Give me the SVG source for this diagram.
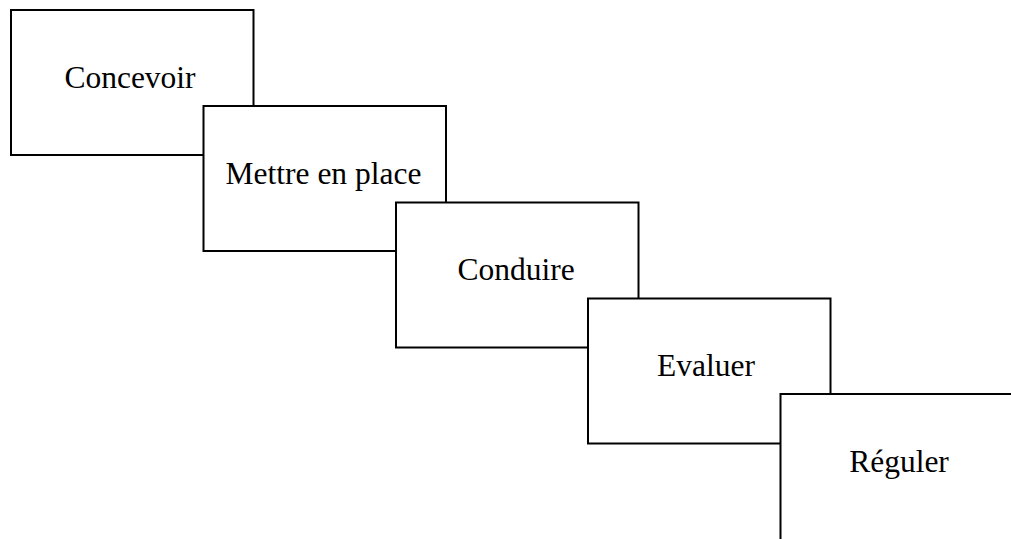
<svg xmlns="http://www.w3.org/2000/svg" width="1011" height="539" viewBox="0 0 1011 539">
  <style>
    .step rect { fill: #ffffff; stroke: #000000; stroke-width: 2; }
    .step text { font-family: "Liberation Serif", "Times New Roman", serif; font-size: 31.5px; fill: #000000; text-anchor: middle; }
  </style>
  <rect x="0" y="0" width="1011" height="539" fill="#ffffff"/>
  <!-- Staircase of overlapping steps; each later step is drawn over the previous one -->
  <g id="concevoir" class="step">
    <rect x="11" y="10" width="242.5" height="145"/>
    <text x="130" y="88">Concevoir</text>
  </g>
  <g id="mettre-en-place" class="step">
    <rect x="203.5" y="106" width="242.5" height="145"/>
    <text x="323.5" y="183.5">Mettre en place</text>
  </g>
  <g id="conduire" class="step">
    <rect x="396" y="202.5" width="242.5" height="145"/>
    <text x="516" y="280">Conduire</text>
  </g>
  <g id="evaluer" class="step">
    <rect x="588" y="298.5" width="242.5" height="145"/>
    <text x="706" y="376">Evaluer</text>
  </g>
  <!-- last step runs past the right and bottom edges -->
  <g id="reguler" class="step">
    <rect x="780.5" y="394" width="242.5" height="155"/>
    <text x="899" y="472">Réguler</text>
  </g>
  <g id="connectors"></g>
</svg>
